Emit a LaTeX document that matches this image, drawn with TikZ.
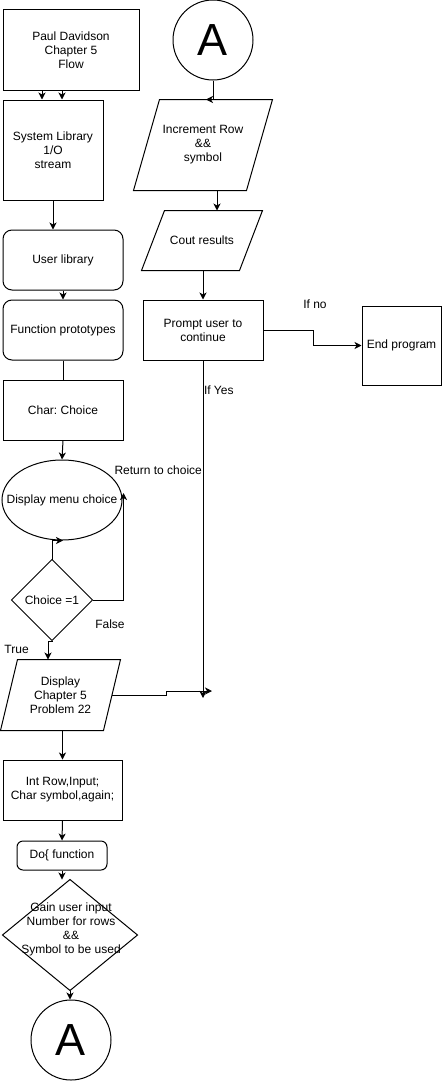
\documentclass[tikz,border=0pt]{standalone}
\usepackage{fontspec}
\setmainfont{Liberation Sans}
\usetikzlibrary{shapes.geometric,arrows.meta}
\frenchspacing
\tikzset{
  base/.style={inner sep=0pt, align=center, font=\fontsize{12}{14}\selectfont},
  box/.style={base, draw, rectangle},
  rbox/.style={box, rounded corners=9pt},
  ghost/.style={base, rectangle},
  circ/.style={base, draw, circle, minimum size=80pt, font=\fontsize{45}{45}\selectfont},
  lbl/.style={base},
  arr/.style={-{Stealth[length=7pt,width=7pt,inset=2pt]}},
}
\begin{document}
\begin{tikzpicture}[x=1pt,y=-1pt,line width=1pt]
\useasboundingbox (0,0) rectangle (443,1081);
% left column
\node[box, minimum width=136pt, minimum height=80pt] (n1) at (71,50) {Paul Davidson\\Chapter 5\\Flow};
\node[box, minimum width=100pt, minimum height=100pt] (n2) at (53,150) {System Library\\1/O\\stream};
\node[rbox, minimum width=120pt, minimum height=60pt] (n3) at (63,260) {User library};
\node[rbox, minimum width=120pt, minimum height=60pt] (n4) at (63,330) {Function prototypes};
\node[box, minimum width=120pt, minimum height=60pt] (n5) at (63,410) {Char: Choice};
\node[base, draw, ellipse, minimum width=120pt, minimum height=80pt, label={center:{\fontsize{12}{14}\selectfont Display menu choice}}] (n6) at (62,500) {};
\node[ghost, minimum width=80pt, minimum height=80pt] (d1) at (52,600) {Choice =1};
\draw (d1.north) -- (d1.east) -- (d1.south) -- (d1.west) -- cycle;
\node[ghost, minimum width=119pt, minimum height=70pt] (p1) at (60.5,695) {Display\\Chapter 5\\Problem 22};
\draw (p1.south west) -- ([xshift=-17pt]p1.south east) -- (p1.north east) -- ([xshift=17pt]p1.north west) -- cycle;
\node[box, minimum width=119pt, minimum height=60pt] (n10) at (62.5,790) {Int Row,Input;\\Char symbol,again;};
\node[box, rounded corners=6pt, minimum width=90pt, minimum height=29pt] (n11) at (62,855.5) {Do\{ function};
\node[ghost, minimum width=134pt, minimum height=110pt] (d2) at (70,935) {};
\draw (d2.north) -- (d2.east) -- (d2.south) -- (d2.west) -- cycle;
\node[lbl] (d2t) at (71,929) {Gain user input\\Number for rows\\\&\&\\Symbol to be used};
\node[circ] (a2) at (71,1040) {A};
% right column
\node[circ] (a1) at (213,40) {A};
\node[ghost, minimum width=138pt, minimum height=90pt] (p2) at (203,145) {Increment Row\\\&\&\\symbol};
\draw (p2.south west) -- ([xshift=-26pt]p2.south east) -- (p2.north east) -- ([xshift=26pt]p2.north west) -- cycle;
\node[ghost, minimum width=120pt, minimum height=59pt] (p3) at (202,240.5) {Cout results};
\draw (p3.south west) -- ([xshift=-23pt]p3.south east) -- (p3.north east) -- ([xshift=23pt]p3.north west) -- cycle;
\node[box, minimum width=120pt, minimum height=60pt] (pr) at (203,330) {Prompt user to\\continue};
\node[box, minimum width=79pt, minimum height=79pt] (endp) at (401.5,345.5) {End program};
% labels
\node[lbl, anchor=west] (lret) at (114,470) {Return to choice};
\node[lbl] (lfalse) at (110,624) {False};
\node[lbl, anchor=west] (ltrue) at (4,649) {True};
\node[lbl] (lno) at (315,304) {If no};
\node[lbl, anchor=west] (lyes) at (203.5,390) {If Yes};
% coordinates
\coordinate (merge) at (212,691);
\coordinate (yesend) at (203,698);
% connectors left
\draw[arr] ([xshift=-11pt]n2.north |- n1.south) -- ([xshift=-11pt]n2.north);
\draw[arr] ([xshift=9pt]n2.north |- n1.south) -- ([xshift=9pt]n2.north);
\draw[arr] (n2.south) -- (n2.south |- n3.north);
\draw[arr] (n3.south) -- (n4.north);
\draw (n4.south) -- (n5.north);
\draw[arr] (n5.south) -- (n6.north);
\draw[arr] (d1.north) |- ([xshift=1pt]n6.south);
\draw[arr] (d1.east) -| ([yshift=7pt,xshift=1pt]n6.east);
\draw[arr] (d1.south) -- ++(0,1) -| ([xshift=-12.5pt]p1.north);
\draw[arr] (n10.north |- p1.south) -- (n10.north);
\draw[arr] ([xshift=-8.5pt]p1.east) -- (166,695) |- (merge);
\draw[arr] (n10.south) -- (n11.north);
\draw[arr] (n11.south) -- (n11.south |- d2.north);
\draw[arr] (d2.south) -- (d2.south |- a2.north);
% connectors right
\draw[arr] (a1.south) |- ([xshift=3pt]p2.north);
\draw[arr] ([xshift=14pt]p2.south) -- ([xshift=14pt]p2.south |- p3.north);
\draw[arr] (pr.north |- p3.south) -- (pr.north);
\draw[arr] (pr.east) -- ++(50,0) |- (endp.west);
\draw[arr] (pr.south) -- (yesend);
\end{tikzpicture}
\end{document}
